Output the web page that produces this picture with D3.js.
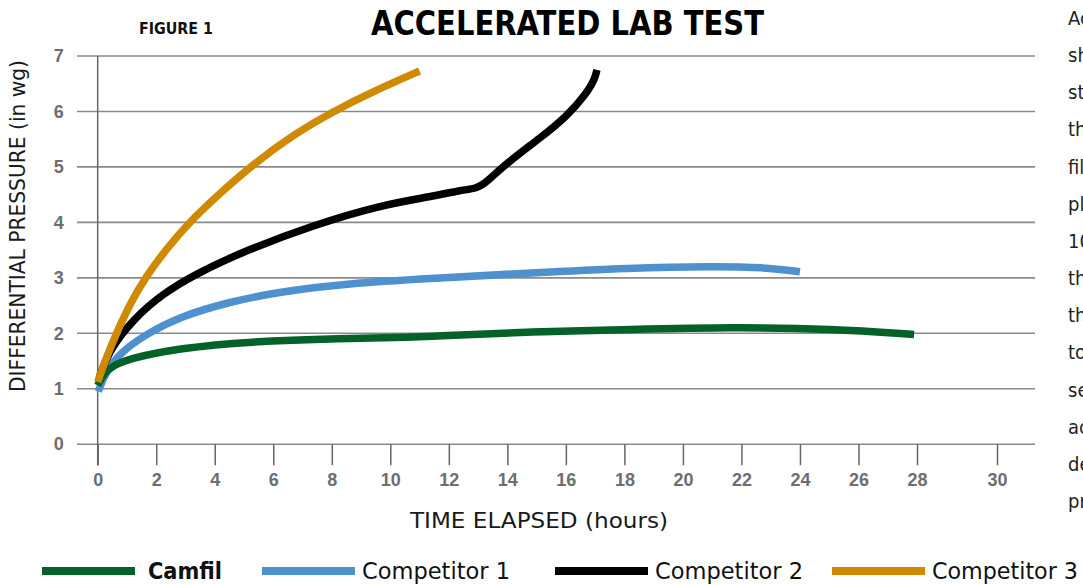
<!DOCTYPE html>
<html>
<head>
<meta charset="utf-8">
<script src="https://cdn.jsdelivr.net/npm/d3@7"></script>
<style>
  html, body { margin: 0; padding: 0; background: #fff; overflow: hidden; }
  svg { display: block; }
  .narrow { font-family: "Liberation Sans Narrow", "DejaVu Sans Condensed", "Roboto Condensed", "Arial Narrow", sans-serif; }
</style>
</head>
<body>
<div id="chart"></div>
<script>
// series data (hours, in wg)
const camfilHours = [0, 0.3, 1.1, 2.8, 5.1, 8.5, 10.2, 11.7, 14.8, 18.2, 21.7, 25.1, 27.9];
const camfilValues = [1.06, 1.37, 1.55, 1.73, 1.85, 1.91, 1.92, 1.95, 2.03, 2.07, 2.11, 2.08, 1.98];

const comp1Hours = [0.02, 0.25, 0.76, 1.67, 2.81, 4.52, 6.23, 8.51, 11.5, 14.8, 18.2, 21.05, 22.76, 24.0];
const comp1Values = [0.95, 1.28, 1.65, 1.99, 2.30, 2.57, 2.75, 2.90, 2.99, 3.09, 3.18, 3.21, 3.19, 3.11];

const comp2Hours = [0.05, 0.4, 1.22, 2.24, 3.38, 5.09, 7.37, 9.65, 11.47, 12.39, 12.96, 13.3, 13.98, 15.12, 16.03, 16.72, 17.0, 17.06];
const comp2Values = [1.2, 1.7, 2.26, 2.72, 3.08, 3.50, 3.95, 4.31, 4.47, 4.58, 4.61, 4.73, 5.07, 5.52, 5.91, 6.33, 6.6, 6.75];

const comp3Hours = [0, 0.4, 1.1, 1.67, 2.35, 3.14, 4.17, 5.2, 6.68, 8.05, 9.41, 11.0];
const comp3Values = [1.12, 1.72, 2.54, 3.04, 3.52, 4.01, 4.52, 5.0, 5.58, 6.0, 6.36, 6.73];

const seriesNames = ["Camfil", "Competitor 1", "Competitor 2", "Competitor 3"];
const seriesColors = ["#046128", "#4f91cf", "#000000", "#d08a00"];

const xTicks = [0, 2, 4, 6, 8, 10, 12, 14, 16, 18, 20, 22, 24, 26, 28, 30];
const yTicks = [0, 1, 2, 3, 4, 5, 6, 7];

const sideText = [
  "Accelerated lab testing",
  "shows the Camfil filter",
  "stays at a lower",
  "the pressure drop than",
  "filters from competitors",
  "placed in the same",
  "10-hour dust loading",
  "then continued for",
  "the remaining hours",
  "to reach the final",
  "set resistance. The",
  "accelerated test",
  "demonstrates energy",
  "protection."
];

const W = 1083, H = 585;

const svg = d3.select("#chart")
  .append("svg")
  .attr("width", W)
  .attr("height", H);

// x axis: the 30 mark sits further right than the regular spacing
const x = d3.scaleLinear()
  .domain([0, 28, 30])
  .range([97.7, 917, 997]);

const y = d3.scaleLinear()
  .domain([0, 7])
  .range([444.2, 56]);

// horizontal gridlines
svg.append("g")
  .selectAll("line")
  .data(yTicks)
  .join("line")
  .attr("x1", 77)
  .attr("x2", 1035)
  .attr("y1", d => y(d))
  .attr("y2", d => y(d))
  .attr("stroke", "#8a8a8a")
  .attr("stroke-width", 1.6);

// vertical axis line
svg.append("line")
  .attr("x1", x(0)).attr("x2", x(0))
  .attr("y1", y(7)).attr("y2", y(0) + 21)
  .attr("stroke", "#666")
  .attr("stroke-width", 1.5);

// x axis ticks and labels
const xAxis = svg.append("g")
  .attr("transform", `translate(0,${y(0)})`)
  .call(d3.axisBottom(x).tickValues(xTicks).tickSize(21).tickPadding(8).tickFormat(d3.format("d")));
xAxis.select(".domain").remove();
xAxis.selectAll(".tick line").attr("stroke", "#666").attr("stroke-width", 1.5);
xAxis.selectAll(".tick text")
  .attr("fill", "#6e6e6e")
  .style("font-family", "'Liberation Sans', Arial, sans-serif")
  .style("font-weight", "bold")
  .style("font-size", "18px");

// y axis labels
const yAxis = svg.append("g")
  .attr("transform", `translate(${x(0)},0)`)
  .call(d3.axisLeft(y).tickValues(yTicks).tickSize(0).tickPadding(34).tickFormat(d3.format("d")));
yAxis.select(".domain").remove();
yAxis.selectAll(".tick text")
  .attr("fill", "#6e6e6e")
  .style("font-family", "'Liberation Sans', Arial, sans-serif")
  .style("font-weight", "bold")
  .style("font-size", "18px");

// lines
const line = d3.line()
  .x(d => x(d[0]))
  .y(d => y(d[1]))
  .curve(d3.curveBasis);

const seriesData = [
  d3.zip(camfilHours, camfilValues),
  d3.zip(comp1Hours, comp1Values),
  d3.zip(comp2Hours, comp2Values),
  d3.zip(comp3Hours, comp3Values)
];
const drawOrder = [1, 0, 2, 3];

svg.append("g")
  .selectAll("path")
  .data(drawOrder)
  .join("path")
  .attr("d", i => line(seriesData[i]))
  .attr("fill", "none")
  .attr("stroke", i => seriesColors[i])
  .attr("stroke-width", 7.5);

// titles
svg.append("text")
  .attr("class", "narrow")
  .attr("x", 139).attr("y", 34)
  .attr("textLength", 74).attr("lengthAdjust", "spacingAndGlyphs")
  .style("font-weight", "bold").style("font-size", "16px")
  .attr("fill", "#111")
  .text("FIGURE 1");

svg.append("text")
  .attr("class", "narrow")
  .attr("x", 371).attr("y", 35)
  .attr("textLength", 393).attr("lengthAdjust", "spacingAndGlyphs")
  .style("font-weight", "bold").style("font-size", "34px")
  .attr("fill", "#000")
  .text("ACCELERATED LAB TEST");

// axis titles
svg.append("text")
  .attr("class", "narrow")
  .attr("transform", "translate(25,226) rotate(-90)")
  .attr("text-anchor", "middle")
  .attr("textLength", 332).attr("lengthAdjust", "spacingAndGlyphs")
  .style("font-size", "21px")
  .attr("fill", "#1a1a1a")
  .text("DIFFERENTIAL PRESSURE (in wg)");

svg.append("text")
  .attr("class", "narrow")
  .attr("x", 539).attr("y", 528)
  .attr("text-anchor", "middle")
  .attr("textLength", 258).attr("lengthAdjust", "spacingAndGlyphs")
  .style("font-size", "22px")
  .attr("fill", "#1a1a1a")
  .text("TIME ELAPSED (hours)");

// legend
const legendX = [42, 262, 555, 832];
const legendTextW = [74, 148, 148, 146];
const legend = svg.append("g")
  .selectAll("g")
  .data(seriesNames)
  .join("g")
  .attr("transform", (d, i) => `translate(${legendX[i]},571)`);
legend.append("line")
  .attr("x1", 0).attr("x2", 93)
  .attr("stroke", (d, i) => seriesColors[i])
  .attr("stroke-width", 8);
legend.append("text")
  .attr("class", "narrow")
  .attr("x", (d, i) => i === 0 ? 106 : 100)
  .attr("y", 8)
  .attr("textLength", (d, i) => legendTextW[i]).attr("lengthAdjust", "spacingAndGlyphs")
  .style("font-size", "23px")
  .style("font-weight", (d, i) => i === 0 ? "bold" : "normal")
  .attr("fill", "#111")
  .text(d => d);

// cut-off article text at the right edge
svg.append("g")
  .selectAll("text")
  .data(sideText)
  .join("text")
  .attr("class", "narrow")
  .attr("x", 1068)
  .attr("y", (d, i) => 25 + i * 37.15)
  .style("font-size", "20px")
  .attr("fill", "#222")
  .text(d => d);
</script>
</body>
</html>
